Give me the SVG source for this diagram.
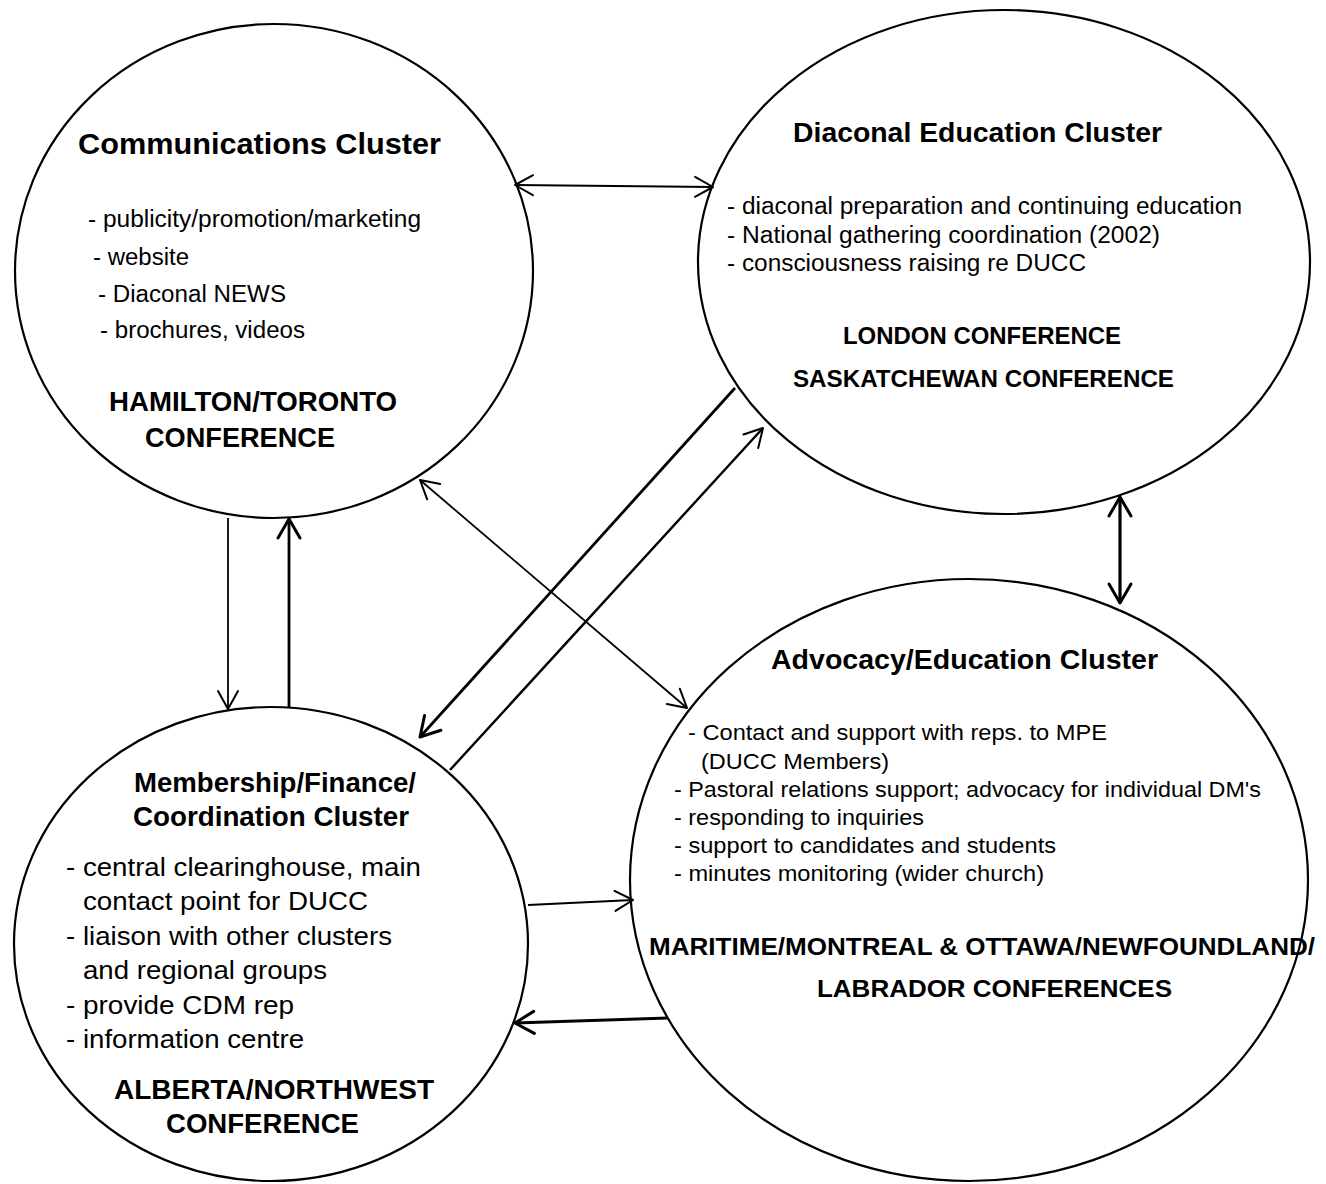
<svg xmlns="http://www.w3.org/2000/svg" width="1326" height="1184" viewBox="0 0 1326 1184">
<style>
.node ellipse{fill:none;stroke:#000;stroke-width:2.2}
text{font-family:"Liberation Sans",Arial,sans-serif;fill:#000}
.b{font-weight:bold}
.conn line{stroke:#000;fill:none}
.thin{stroke-width:1.8}
.thick{stroke-width:2.8}
</style>
<defs>
<marker id="ah" markerUnits="userSpaceOnUse" viewBox="-22 -14 26 28" refX="0" refY="0" markerWidth="26" markerHeight="28" orient="auto-start-reverse">
<path d="M-18,-10 L0,0 L-18,10" fill="none" stroke="#000" stroke-width="2" stroke-linecap="round" stroke-linejoin="round"/>
</marker>
<marker id="ahb" markerUnits="userSpaceOnUse" viewBox="-22 -14 26 28" refX="0" refY="0" markerWidth="26" markerHeight="28" orient="auto-start-reverse">
<path d="M-19,-11 L0,0 L-19,11" fill="none" stroke="#000" stroke-width="3" stroke-linecap="round" stroke-linejoin="round"/>
</marker>
</defs>
<rect width="1326" height="1184" fill="#fff"/>

<g id="connectors" class="conn">
<line class="thin" x1="515" y1="185" x2="713" y2="187" style="stroke-width:2.2" marker-start="url(#ah)" marker-end="url(#ah)"/>
<line class="thin" x1="228" y1="518" x2="228" y2="709" marker-end="url(#ah)"/>
<line class="thick" x1="289" y1="707" x2="289" y2="519" marker-end="url(#ahb)"/>
<line class="thin" x1="420" y1="480" x2="687" y2="708" marker-start="url(#ah)" marker-end="url(#ah)"/>
<line class="thick" x1="735" y1="388" x2="420" y2="737" marker-end="url(#ahb)"/>
<line class="thick" x1="450" y1="770" x2="763" y2="428" style="stroke-width:2.4" marker-end="url(#ah)"/>
<line class="thin" x1="528" y1="905" x2="633" y2="900" marker-end="url(#ah)"/>
<line class="thick" x1="668" y1="1018" x2="515" y2="1023" marker-end="url(#ahb)"/>
<line class="thick" x1="1120" y1="497" x2="1120" y2="603" style="stroke-width:3.2" marker-start="url(#ahb)" marker-end="url(#ahb)"/>
</g>

<g id="communications" class="node">
<ellipse cx="274" cy="271" rx="259" ry="247"/>
<text class="b" x="78" y="154" font-size="29" textLength="363" lengthAdjust="spacingAndGlyphs">Communications Cluster</text>
<text x="88" y="227" font-size="23" textLength="333" lengthAdjust="spacingAndGlyphs">- publicity/promotion/marketing</text>
<text x="93" y="265" font-size="23" textLength="96" lengthAdjust="spacingAndGlyphs">- website</text>
<text x="98" y="302" font-size="23" textLength="188" lengthAdjust="spacingAndGlyphs">- Diaconal NEWS</text>
<text x="100" y="338" font-size="23" textLength="205" lengthAdjust="spacingAndGlyphs">- brochures, videos</text>
<text class="b" x="109" y="411" font-size="27" textLength="288" lengthAdjust="spacingAndGlyphs">HAMILTON/TORONTO</text>
<text class="b" x="145" y="447" font-size="27" textLength="190" lengthAdjust="spacingAndGlyphs">CONFERENCE</text>
</g>

<g id="diaconal" class="node">
<ellipse cx="1004" cy="262" rx="306" ry="252"/>
<text class="b" x="793" y="142" font-size="28" textLength="369" lengthAdjust="spacingAndGlyphs">Diaconal Education Cluster</text>
<text x="727" y="214" font-size="23" textLength="515" lengthAdjust="spacingAndGlyphs">- diaconal preparation and continuing education</text>
<text x="727" y="243" font-size="23" textLength="433" lengthAdjust="spacingAndGlyphs">- National gathering coordination (2002)</text>
<text x="727" y="271" font-size="23" textLength="359" lengthAdjust="spacingAndGlyphs">- consciousness raising re DUCC</text>
<text class="b" x="843" y="344" font-size="23" textLength="278" lengthAdjust="spacingAndGlyphs">LONDON CONFERENCE</text>
<text class="b" x="793" y="387" font-size="23" textLength="381" lengthAdjust="spacingAndGlyphs">SASKATCHEWAN CONFERENCE</text>
</g>

<g id="membership" class="node">
<ellipse cx="271" cy="944" rx="257" ry="237"/>
<text class="b" x="134" y="792" font-size="27" textLength="282" lengthAdjust="spacingAndGlyphs">Membership/Finance/</text>
<text class="b" x="133" y="826" font-size="27" textLength="276" lengthAdjust="spacingAndGlyphs">Coordination Cluster</text>
<text x="66" y="876" font-size="26" textLength="355" lengthAdjust="spacingAndGlyphs">- central clearinghouse, main</text>
<text x="83" y="910" font-size="26" textLength="285" lengthAdjust="spacingAndGlyphs">contact point for DUCC</text>
<text x="66" y="945" font-size="26" textLength="326" lengthAdjust="spacingAndGlyphs">- liaison with other clusters</text>
<text x="83" y="979" font-size="26" textLength="244" lengthAdjust="spacingAndGlyphs">and regional groups</text>
<text x="66" y="1014" font-size="26" textLength="228" lengthAdjust="spacingAndGlyphs">- provide CDM rep</text>
<text x="66" y="1048" font-size="26" textLength="238" lengthAdjust="spacingAndGlyphs">- information centre</text>
<text class="b" x="114" y="1099" font-size="27" textLength="320" lengthAdjust="spacingAndGlyphs">ALBERTA/NORTHWEST</text>
<text class="b" x="166" y="1133" font-size="27" textLength="193" lengthAdjust="spacingAndGlyphs">CONFERENCE</text>
</g>

<g id="advocacy" class="node">
<ellipse cx="969" cy="880" rx="339" ry="301"/>
<text class="b" x="771" y="669" font-size="27" textLength="387" lengthAdjust="spacingAndGlyphs">Advocacy/Education Cluster</text>
<text x="688" y="740" font-size="22" textLength="419" lengthAdjust="spacingAndGlyphs">- Contact and support with reps. to MPE</text>
<text x="701" y="769" font-size="22" textLength="188" lengthAdjust="spacingAndGlyphs">(DUCC Members)</text>
<text x="674" y="797" font-size="22" textLength="587" lengthAdjust="spacingAndGlyphs">- Pastoral relations support; advocacy for individual DM's</text>
<text x="674" y="825" font-size="22" textLength="250" lengthAdjust="spacingAndGlyphs">- responding to inquiries</text>
<text x="674" y="853" font-size="22" textLength="382" lengthAdjust="spacingAndGlyphs">- support to candidates and students</text>
<text x="674" y="881" font-size="22" textLength="370" lengthAdjust="spacingAndGlyphs">- minutes monitoring (wider church)</text>
<text class="b" x="649" y="955" font-size="24" textLength="666" lengthAdjust="spacingAndGlyphs">MARITIME/MONTREAL &amp; OTTAWA/NEWFOUNDLAND/</text>
<text class="b" x="817" y="997" font-size="24" textLength="355" lengthAdjust="spacingAndGlyphs">LABRADOR CONFERENCES</text>
</g>
</svg>
